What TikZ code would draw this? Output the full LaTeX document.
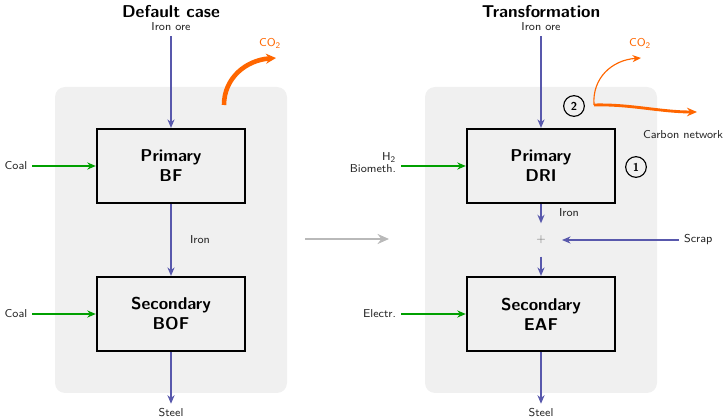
\documentclass[tikz,border=0pt]{standalone}
\usepackage{fontspec}
\usetikzlibrary{arrows.meta}
\definecolor{ironblue}{RGB}{88,88,172}
\definecolor{fuelgreen}{RGB}{0,160,0}
\definecolor{carbon}{RGB}{255,102,0}
\definecolor{panelgray}{RGB}{240,240,240}
\definecolor{shiftgray}{RGB}{185,185,185}
\tikzset{
	proc/.style={draw, line width=1.3pt, minimum width=104pt, minimum height=52pt, align=center, font=\sffamily\large\bfseries},
	flow/.style={draw=ironblue, thick, -{Stealth[length=6pt, width=5pt]}},
	fuel/.style={draw=fuelgreen, thick, -{Stealth[length=6pt, width=5pt]}},
	lbl/.style={text=black!85},
	stage/.style={draw, thick, circle, inner sep=0pt, minimum size=14.5pt, font=\sffamily\footnotesize\bfseries},
	title/.style={font=\sffamily\large\bfseries}
}
\begin{document}
\begin{tikzpicture}[x=0.7pt, y=-0.7pt, font=\sffamily\footnotesize]
		\useasboundingbox (0,0) rectangle (727,419);
		
		% Panels
		\fill[panelgray, rounded corners=7pt] (55,87) rectangle (287,393);
		\fill[panelgray, rounded corners=7pt] (425,87) rectangle (657,393);
		
		% Default case
		\node[title] (tleft) at (171,12) {Default case};
		\node[lbl] (ore1) at (171,27) {Iron ore};
		\node[proc] (bf) at (171,166) {Primary\\BF};
		\node[proc] (bof) at (171,314) {Secondary\\BOF};
		\node[lbl] (steel1) at (171,413) {Steel};
		\node[lbl] (coal1) at (16,166) {Coal};
		\node[lbl] (coal2) at (16,314) {Coal};
		\node[lbl, anchor=west] (iron1) at (185,240) {Iron};
		\node[text=carbon] (co2a) at (270,43) {CO\textsubscript{2}};
		
		\draw[flow] (ore1) -- (bf);
		\draw[flow] (bf) -- (bof);
		\draw[flow] (bof) -- (steel1);
		\draw[fuel] (coal1) -- (bf);
		\draw[fuel] (coal2) -- (bof);
		\draw[carbon, line width=3.2pt, -{Stealth[length=7pt, width=7pt]}] (224,105) .. controls (224,78) and (246,60) .. (276,58);
		
		% Shift between the cases
		\coordinate (sa) at (305,239);
		\coordinate (sb) at (389,239);
		\draw[shiftgray, line width=1.4pt, -{Stealth[length=8pt, width=7pt]}] (sa) -- (sb);
		
		% Transformation
		\node[title] (tright) at (541,12) {Transformation};
		\node[lbl] (ore2) at (541,27) {Iron ore};
		\node[proc] (dri) at (541,166) {Primary\\DRI};
		\node[text=black!55, minimum width=29pt, minimum height=23pt, inner sep=0pt] (mix) at (541,240) {+};
		\node[proc] (eaf) at (541,314) {Secondary\\EAF};
		\node[lbl] (steel2) at (541,413) {Steel};
		\node[lbl, anchor=east, align=right] (h2) at (401,163) {H\textsubscript{2}\\[-1pt]Biometh.};
		\node[lbl, anchor=east] (elec) at (401,314) {Electr.};
		\node[lbl, anchor=west] (scrap) at (679,240) {Scrap};
		\node[lbl, anchor=west] (iron2) at (554,213) {Iron};
		\node[stage] (s1) at (636,167) {1};
		\node[stage] (s2) at (574,106) {2};
		\node[text=carbon] (co2b) at (640,43) {CO\textsubscript{2}};
		\node[lbl] (cnet) at (683,135) {Carbon network};
		\coordinate (cstart) at (594,105);
		\coordinate (cend) at (697,112);
		
		\draw[flow] (ore2) -- (dri);
		\draw[flow] (dri) -- (mix);
		\draw[flow] (mix) -- (eaf);
		\draw[flow] (scrap) -- (mix);
		\draw[flow] (eaf) -- (steel2);
		\draw[fuel] (h2.east |- dri.west) -- (dri.west);
		\draw[fuel] (elec) -- (eaf);
		\draw[carbon, thick, -{Stealth[length=6pt, width=5pt]}] (cstart) .. controls (592,78) and (612,60) .. (641,58);
		\draw[carbon, line width=2pt, -{Stealth[length=7pt, width=6pt]}] (cstart) .. controls (630,104) and (660,112) .. (cend);
	\end{tikzpicture}
\end{document}
